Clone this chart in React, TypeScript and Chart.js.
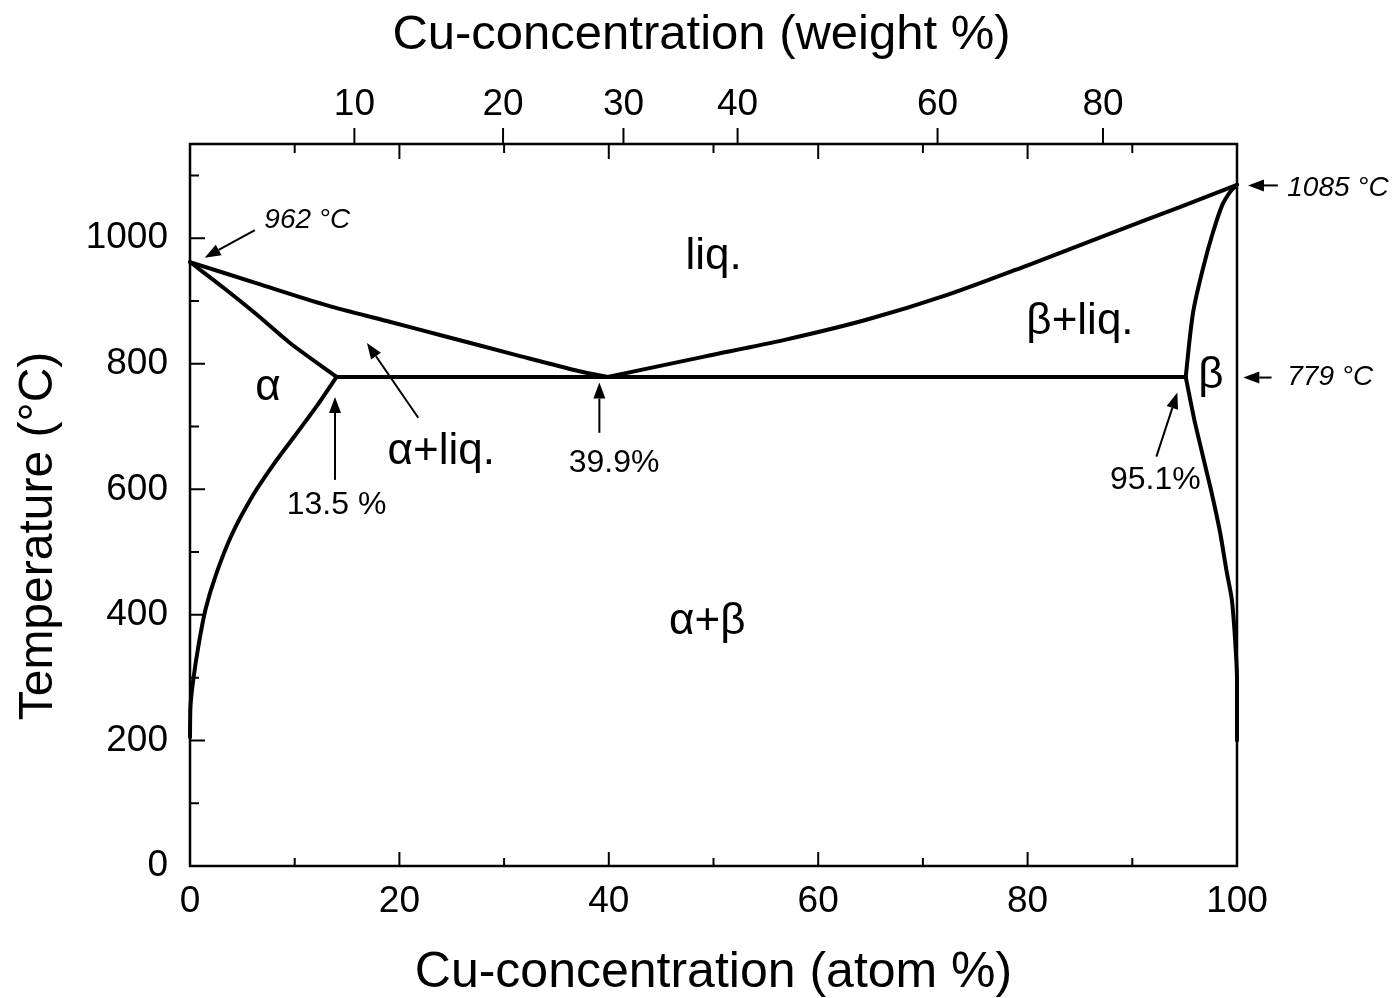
import React, { useEffect, useRef } from "react";
import { Chart, registerables } from "chart.js";

Chart.register(...registerables);

const FONT = '"Liberation Sans", Arial, Helvetica, sans-serif';

// ---- Phase boundaries (x = Cu concentration in atom %, t = temperature °C) ----
const liqAgX = [0, 6.4, 13.1, 18.8, 24.5, 30.9, 37.2, 39.9];
const liqAgT = [962, 928, 893, 868, 843, 815, 788, 779];

const solAgX = [0, 3.2, 6.4, 9.55, 14.0];
const solAgT = [962, 921, 878, 833, 779];

const solvAgX = [14.0, 12.0, 10.0, 8.0, 6.0, 4.0, 2.5, 1.5, 0.8, 0.3, 0.05, 0];
const solvAgT = [779, 730, 685, 640, 590, 528, 465, 410, 350, 295, 255, 205];

const liqCuX = [39.9, 49.0, 56.8, 64.6, 72.4, 80.2, 88.0, 94.6, 100];
const liqCuT = [779, 811, 838, 870, 910, 958, 1008, 1050, 1085];

const solCuX = [95.1, 95.8, 96.8, 97.7, 98.6, 99.4, 100];
const solCuT = [779, 881, 955, 1009, 1053, 1075, 1085];

const solvCuX = [95.1, 96.0, 97.5, 98.4, 99.0, 99.5, 99.8, 100, 100];
const solvCuT = [779, 705, 600, 530, 470, 425, 365, 300, 200];

const eutX = [14.0, 95.1];
const eutT = [779, 779];

// ---- Axes ----
const atomTicks = [10, 20, 30, 40, 50, 60, 70, 80, 90];
const tempTicks = [100, 200, 300, 400, 500, 600, 700, 800, 900, 1000, 1100];
const topTickPos = [15.7, 29.9, 41.4, 52.3, 71.4, 87.2]; // weight % marks placed on atom % scale
const topTickLabels = ["10", "20", "30", "40", "60", "80"];

const xTitleBottom = "Cu-concentration (atom %)";
const xTitleTop = "Cu-concentration (weight %)";
const yTitle = "Temperature (°C)";

// ---- Labels ----
const regionLabels = ["liq.", "β+liq.", "α", "β", "α+liq.", "α+β"];
const regionX = [50.0, 85.0, 7.45, 97.5, 24.0, 49.4];
const regionT = [970, 867, 762, 781, 660, 389];

const noteLabels = ["39.9%", "13.5 %", "95.1%"];
const noteX = [40.5, 14.0, 92.2];
const noteT = [642, 575, 614];

const tempLabels = ["962 °C", "1085 °C", "779 °C"];
const tempLabelX = [11.2, 104.8, 104.8];
const tempLabelT = [1029, 1080, 778];
const tempLabelAlign = ["center", "left", "left"];

// ---- Arrows (tail -> tip) ----
const arrowTailX = [6.2, 103.9, 103.3, 13.85, 21.8, 39.1, 92.3];
const arrowTailT = [1013, 1084, 778, 615, 714, 690, 652];
const arrowTipX = [1.4, 101.05, 100.6, 13.85, 16.9, 39.1, 94.3];
const arrowTipT = [969, 1084, 778, 747, 833, 770, 754];

const toPts = (xs: number[], ts: number[]) => xs.map((x, i) => ({ x, y: ts[i] }));

function drawArrow(ctx: CanvasRenderingContext2D, x1: number, y1: number, x2: number, y2: number) {
  const ang = Math.atan2(y2 - y1, x2 - x1);
  const head = 16;
  const hw = 6;
  const bx = x2 - head * Math.cos(ang);
  const by = y2 - head * Math.sin(ang);
  ctx.beginPath();
  ctx.moveTo(x1, y1);
  ctx.lineTo(bx, by);
  ctx.stroke();
  ctx.beginPath();
  ctx.moveTo(x2, y2);
  ctx.lineTo(bx + hw * Math.sin(ang), by - hw * Math.cos(ang));
  ctx.lineTo(bx - hw * Math.sin(ang), by + hw * Math.cos(ang));
  ctx.closePath();
  ctx.fill();
}

const decorPlugin = {
  id: "phaseDecor",
  afterDraw(chart: any) {
    const { ctx, chartArea: a, scales } = chart;
    const x = scales.x;
    const y = scales.y;
    const xt = scales.xTop;
    ctx.save();
    ctx.strokeStyle = "#000";
    ctx.fillStyle = "#000";

    // frame
    ctx.lineWidth = 2.5;
    ctx.strokeRect(a.left, a.top, a.right - a.left, a.bottom - a.top);

    // tick marks
    ctx.lineWidth = 2;
    ctx.beginPath();
    for (const v of atomTicks) {
      const px = x.getPixelForValue(v);
      const major = v % 20 === 0;
      ctx.moveTo(px, a.bottom);
      ctx.lineTo(px, a.bottom - (major ? 14 : 8));
      ctx.moveTo(px, a.top);
      ctx.lineTo(px, a.top + (major ? 15 : 9));
    }
    for (const v of tempTicks) {
      const py = y.getPixelForValue(v);
      ctx.moveTo(a.left, py);
      ctx.lineTo(a.left + (v % 200 === 0 ? 15 : 9), py);
    }
    for (const v of topTickPos) {
      const px = xt.getPixelForValue(v);
      ctx.moveTo(px, a.top);
      ctx.lineTo(px, a.top - 16);
    }
    ctx.stroke();

    // arrows
    ctx.lineWidth = 2;
    for (let i = 0; i < arrowTailX.length; i++) {
      drawArrow(
        ctx,
        x.getPixelForValue(arrowTailX[i]),
        y.getPixelForValue(arrowTailT[i]),
        x.getPixelForValue(arrowTipX[i]),
        y.getPixelForValue(arrowTipT[i])
      );
    }

    // region labels
    ctx.textBaseline = "middle";
    ctx.textAlign = "center";
    ctx.font = `44px ${FONT}`;
    regionLabels.forEach((s, i) => {
      ctx.fillText(s, x.getPixelForValue(regionX[i]), y.getPixelForValue(regionT[i]));
    });

    ctx.font = `32px ${FONT}`;
    noteLabels.forEach((s, i) => {
      ctx.fillText(s, x.getPixelForValue(noteX[i]), y.getPixelForValue(noteT[i]));
    });

    ctx.font = `italic 28px ${FONT}`;
    tempLabels.forEach((s, i) => {
      ctx.textAlign = tempLabelAlign[i] as CanvasTextAlign;
      ctx.fillText(s, x.getPixelForValue(tempLabelX[i]), y.getPixelForValue(tempLabelT[i]));
    });

    // axis titles
    ctx.textAlign = "center";
    ctx.textBaseline = "alphabetic";
    ctx.font = `50px ${FONT}`;
    ctx.fillText(xTitleBottom, (a.left + a.right) / 2, 979);
    ctx.font = `49px ${FONT}`;
    ctx.fillText(xTitleTop, (a.left + a.right) / 2 - 12, 41);

    ctx.font = `48px ${FONT}`;
    ctx.translate(44, 528);
    ctx.rotate(-Math.PI / 2);
    ctx.fillText(yTitle, 0, 0);

    ctx.restore();
  },
};

export default function App() {
  const ref = useRef<HTMLCanvasElement | null>(null);

  useEffect(() => {
    if (!ref.current) return;
    const line = (xs: number[], ts: number[], tension: number) => ({
      data: toPts(xs, ts),
      showLine: true,
      borderColor: "#000",
      borderWidth: 4,
      pointRadius: 0,
      tension,
      fill: false,
      clip: false as any,
      borderJoinStyle: "round" as const,
      borderCapStyle: "round" as const,
    });

    const chart = new Chart(ref.current, {
      type: "scatter",
      data: {
        datasets: [
          line(liqAgX, liqAgT, 0.3),
          line(solAgX, solAgT, 0.3),
          line(solvAgX, solvAgT, 0.3),
          line(liqCuX, liqCuT, 0.3),
          line(solCuX, solCuT, 0.3),
          line(solvCuX, solvCuT, 0.2),
          line(eutX, eutT, 0),
        ],
      },
      options: {
        animation: false,
        responsive: false,
        events: [],
        layout: { padding: { left: 0, right: 152, top: 0, bottom: 0 } },
        plugins: { legend: { display: false }, tooltip: { enabled: false } },
        scales: {
          x: {
            type: "linear",
            position: "bottom",
            min: 0,
            max: 100,
            border: { display: false },
            grid: { display: false, drawTicks: false },
            ticks: {
              stepSize: 20,
              autoSkip: false,
              maxRotation: 0,
              padding: 14,
              color: "#000",
              font: { family: FONT, size: 37 },
            },
            afterFit: (s: any) => {
              s.height = 132;
            },
          },
          xTop: {
            type: "linear",
            position: "top",
            min: 0,
            max: 100,
            border: { display: false },
            grid: { display: false, drawTicks: false },
            afterBuildTicks: (s: any) => {
              s.ticks = topTickPos.map((v) => ({ value: v }));
            },
            ticks: {
              autoSkip: false,
              maxRotation: 0,
              padding: 17,
              color: "#000",
              font: { family: FONT, size: 37 },
              callback: (_v: any, i: number) => topTickLabels[i],
            },
            afterFit: (s: any) => {
              s.height = 136;
            },
          },
          y: {
            type: "linear",
            position: "left",
            min: 0,
            max: 1150,
            border: { display: false },
            grid: { display: false, drawTicks: false },
            ticks: {
              stepSize: 100,
              includeBounds: false,
              autoSkip: false,
              padding: 22,
              color: "#000",
              font: { family: FONT, size: 37 },
              callback: (v: any) => (Number(v) % 200 === 0 && Number(v) <= 1000 ? String(v) : ""),
            },
            afterFit: (s: any) => {
              s.width = 182;
            },
          },
        },
      },
      plugins: [decorPlugin],
    });
    return () => chart.destroy();
  }, []);

  return (
    <div style={{ width: 1381, height: 990 }}>
      <canvas ref={ref} width={1381} height={990} style={{ display: "block", width: 1381, height: 990 }} />
    </div>
  );
}
